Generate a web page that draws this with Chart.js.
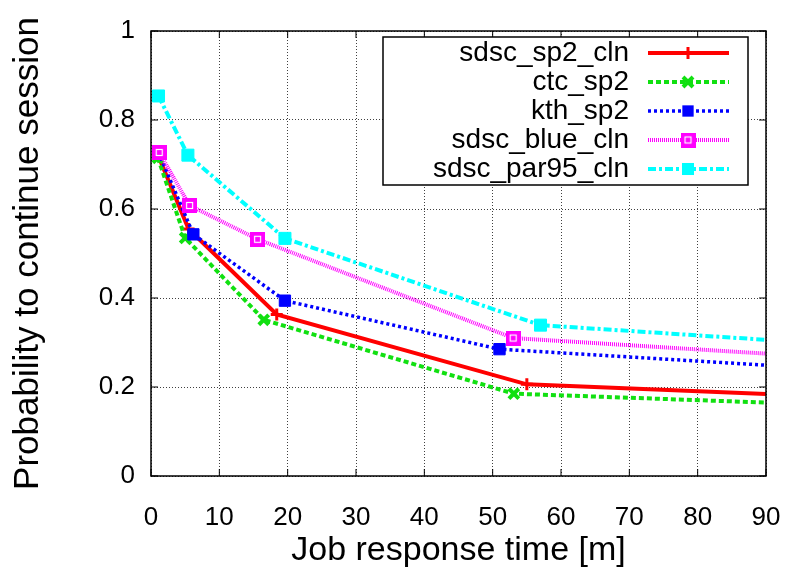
<!DOCTYPE html>
<html>
<head>
<meta charset="utf-8">
<script src="https://cdn.jsdelivr.net/npm/chart.js@4.4.0/dist/chart.umd.min.js"></script>
<style>
html, body { margin: 0; padding: 0; background: #fff; }
#wrap { width: 788px; height: 570px; }
</style>
</head>
<body>
<div id="wrap"><canvas id="graph" width="788" height="570"></canvas></div>
<script>
// series (x = minutes, y = probability)
var seriesNames = ['sdsc_sp2_cln', 'ctc_sp2', 'kth_sp2', 'sdsc_blue_cln', 'sdsc_par95_cln'];

var sp2X   = [1.0, 5.5, 18.4, 55.0, 90];
var sp2Y   = [0.722, 0.555, 0.363, 0.206, 0.184];
var ctcX   = [1.0, 5.0, 16.5, 53.1, 90];
var ctcY   = [0.715, 0.535, 0.351, 0.185, 0.165];
var kthX   = [1.1, 6.2, 19.6, 51.0, 90];
var kthY   = [0.727, 0.543, 0.394, 0.285, 0.249];
var blueX  = [1.2, 5.65, 15.6, 53.0, 90];
var blueY  = [0.727, 0.608, 0.532, 0.310, 0.275];
var par95X = [1.1, 5.4, 19.6, 57.0, 90];
var par95Y = [0.854, 0.721, 0.534, 0.339, 0.306];

var xTickLabels = ['0', '10', '20', '30', '40', '50', '60', '70', '80', '90'];
var yTickLabels = ['0', '0.2', '0.4', '0.6', '0.8', '1'];

var FONT = '"Liberation Sans", Arial, Helvetica, sans-serif';

function toPoints(xs, ys) {
    var pts = [];
    for (var i = 0; i < xs.length; i++) {
        pts.push({ x: xs[i], y: ys[i] });
    }
    return pts;
}

// last point sits on the right edge, no marker there
function radii(n, r) {
    var out = [];
    for (var i = 0; i < n; i++) out.push(i == n - 1 ? 0 : r);
    return out;
}

// magenta marker: filled square with small white hollow square inside
function makeBlueMarker() {
    var c = document.createElement('canvas');
    c.width = 15; c.height = 15;
    var g = c.getContext('2d');
    g.fillStyle = '#ff00ff';
    g.fillRect(0, 0, 15, 15);
    g.strokeStyle = '#ffffff';
    g.lineWidth = 1.2;
    g.strokeRect(4.5, 4.5, 6, 6);
    return c;
}
var blueMarker = makeBlueMarker();

var datasets = [
    {
        label: seriesNames[0], data: toPoints(sp2X, sp2Y),
        borderColor: '#ff0000', backgroundColor: '#ff0000', borderWidth: 4,
        pointStyle: 'cross', pointRadius: radii(sp2X.length, 6), pointBorderWidth: 3,
        order: 5
    },
    {
        label: seriesNames[1], data: toPoints(ctcX, ctcY),
        borderColor: '#11e011', backgroundColor: '#11e011', borderWidth: 4, borderDash: [5, 3],
        pointStyle: 'crossRot', pointRadius: radii(ctcX.length, 7), pointBorderWidth: 4,
        order: 4
    },
    {
        label: seriesNames[2], data: toPoints(kthX, kthY),
        borderColor: '#0000ff', backgroundColor: '#0000ff', borderWidth: 3.5, borderDash: [3, 3],
        pointStyle: 'rect', pointRadius: radii(kthX.length, 8), pointBorderWidth: 1,
        order: 3
    },
    {
        label: seriesNames[3], data: toPoints(blueX, blueY),
        borderColor: '#ff00ff', backgroundColor: '#ff00ff', borderWidth: 4, borderDash: [1, 1],
        pointStyle: blueMarker, pointRadius: radii(blueX.length, 8), pointBorderWidth: 1,
        order: 2
    },
    {
        label: seriesNames[4], data: toPoints(par95X, par95Y),
        borderColor: '#00ffff', backgroundColor: '#00ffff', borderWidth: 4, borderDash: [8, 3, 3, 3],
        pointStyle: 'rect', pointRadius: radii(par95X.length, 8.5), pointBorderWidth: 1,
        order: 1
    }
];

function drawMarker(ctx, ds, x, y) {
    var st = ds.pointStyle;
    ctx.save();
    ctx.setLineDash([]);
    ctx.strokeStyle = ds.borderColor;
    ctx.fillStyle = ds.backgroundColor;
    ctx.lineWidth = ds.pointBorderWidth;
    if (st == 'cross') {
        ctx.beginPath();
        ctx.moveTo(x - 6, y); ctx.lineTo(x + 6, y);
        ctx.moveTo(x, y - 6); ctx.lineTo(x, y + 6);
        ctx.stroke();
    } else if (st == 'crossRot') {
        ctx.beginPath();
        ctx.moveTo(x - 5, y - 5); ctx.lineTo(x + 5, y + 5);
        ctx.moveTo(x + 5, y - 5); ctx.lineTo(x - 5, y + 5);
        ctx.stroke();
    } else if (st == 'rect') {
        var s = ds.pointRadius[0] * Math.SQRT1_2;
        ctx.fillRect(x - s, y - s, 2 * s, 2 * s);
    } else {
        ctx.drawImage(st, x - st.width / 2, y - st.height / 2);
    }
    ctx.restore();
}

var framePlugin = {
    id: 'frame',
    afterDraw: function (chart) {
        var ctx = chart.ctx;
        var a = chart.chartArea;
        var xs = chart.scales.x, ys = chart.scales.y;
        ctx.save();
        ctx.strokeStyle = '#000';
        ctx.lineWidth = 1.5;
        ctx.setLineDash([]);
        ctx.strokeRect(a.left, a.top, a.right - a.left, a.bottom - a.top);
        // inward ticks on all four sides
        ctx.lineWidth = 1;
        ctx.beginPath();
        xs.ticks.forEach(function (t) {
            var px = xs.getPixelForValue(t.value);
            ctx.moveTo(px, a.bottom); ctx.lineTo(px, a.bottom - 7);
            ctx.moveTo(px, a.top); ctx.lineTo(px, a.top + 7);
        });
        ys.ticks.forEach(function (t) {
            var py = ys.getPixelForValue(t.value);
            ctx.moveTo(a.left, py); ctx.lineTo(a.left + 7, py);
            ctx.moveTo(a.right, py); ctx.lineTo(a.right - 7, py);
        });
        ctx.stroke();

        // legend box, top right, text right-aligned with sample on the right
        var bx = 383, by = 37, bw = 365, bh = 148;
        ctx.fillStyle = '#fff';
        ctx.fillRect(bx, by, bw, bh);
        ctx.lineWidth = 1.5;
        ctx.strokeRect(bx, by, bw, bh);
        ctx.font = '28px ' + FONT;
        ctx.textAlign = 'right';
        ctx.textBaseline = 'middle';
        chart.data.datasets.forEach(function (ds, i) {
            var ry = 53 + 29 * i;
            ctx.fillStyle = '#000';
            ctx.fillText(ds.label, 629, ry);
            ctx.save();
            ctx.strokeStyle = ds.borderColor;
            ctx.lineWidth = ds.borderWidth;
            ctx.setLineDash(ds.borderDash || []);
            ctx.beginPath();
            ctx.moveTo(648, ry); ctx.lineTo(729, ry);
            ctx.stroke();
            ctx.restore();
            drawMarker(ctx, ds, 688, ry);
        });
        ctx.restore();
    }
};

var chart = new Chart(document.getElementById('graph'), {
    type: 'line',
    data: { datasets: datasets },
    plugins: [framePlugin],
    options: {
        responsive: false,
        animation: false,
        devicePixelRatio: 1,
        layout: { padding: { top: 31, right: 22, left: 0, bottom: 0 } },
        plugins: { legend: { display: false }, tooltip: { enabled: false } },
        elements: { line: { tension: 0 } },
        scales: {
            x: {
                type: 'linear', min: 0, max: 90,
                afterFit: function (s) { s.height = 94; s.paddingLeft = 0; s.paddingRight = 0; },
                ticks: {
                    stepSize: 10, padding: 26, color: '#000', maxRotation: 0,
                    font: { family: FONT, size: 26 },
                    callback: function (v, i) { return xTickLabels[i]; }
                },
                grid: { color: 'rgba(0,0,0,0.75)', lineWidth: 1, drawTicks: false },
                border: { display: false, dash: [1, 2] },
                title: {
                    display: true, text: 'Job response time [m]', color: '#000',
                    font: { family: FONT, size: 34, lineHeight: 1 },
                    padding: { top: 0, bottom: 2 }
                }
            },
            y: {
                type: 'linear', min: 0, max: 1,
                afterFit: function (s) { s.width = 151; s.paddingTop = 0; s.paddingBottom = 0; },
                ticks: {
                    stepSize: 0.2, padding: 16, color: '#000',
                    font: { family: FONT, size: 26 },
                    callback: function (v, i) { return yTickLabels[i]; }
                },
                grid: { color: 'rgba(0,0,0,0.75)', lineWidth: 1, drawTicks: false },
                border: { display: false, dash: [1, 2] },
                title: {
                    display: true, text: 'Probability to continue session', color: '#000',
                    font: { family: FONT, size: 35, lineHeight: 1 },
                    padding: { top: 11, bottom: 0 }
                }
            }
        }
    }
});
</script>
</body>
</html>
